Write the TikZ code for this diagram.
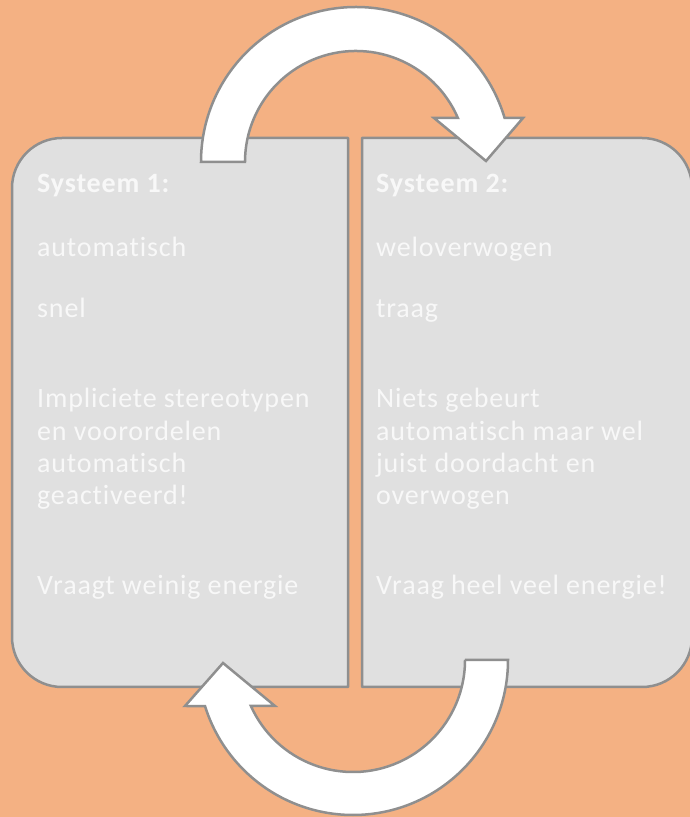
\documentclass[tikz,border=0pt]{standalone}
\usepackage{fontspec}
\setmainfont{Carlito}[Ligatures={NoCommon}, LetterSpace=3]
\definecolor{bgorange}{HTML}{F4B183}
\definecolor{boxgrey}{HTML}{E0E0E0}
\definecolor{edgegrey}{HTML}{8F8F8F}
\definecolor{txtwhite}{HTML}{F8F8F8}
\tikzset{
  panel/.style={fill=boxgrey, draw=edgegrey, line width=2.5pt, line join=round},
  cyclearrow/.style={fill=white, draw=edgegrey, line width=2.5pt, line join=miter},
  txt/.style={anchor=base west, inner sep=0pt, text=txtwhite, font=\fontsize{28}{32}\selectfont},
  hdr/.style={txt, font=\fontsize{28}{32}\selectfont\bfseries}
}
\begin{document}
\begin{tikzpicture}[x=1pt, y=1pt]
\useasboundingbox (0,0) rectangle (690,817);
\fill[bgorange] (0,0) rectangle (690,817);
% panels
\draw[panel] (348,679) -- (62,679) arc[start angle=90, end angle=180, radius=50]
  -- (12,180) arc[start angle=180, end angle=270, radius=50] -- (348,130) -- cycle;
\draw[panel] (362,679) -- (642,679) arc[start angle=90, end angle=0, radius=50]
  -- (692,180) arc[start angle=0, end angle=-90, radius=50] -- (362,130) -- cycle;
% top arrow
\draw[cyclearrow] (201,655) arc[start angle=180, end angle=16.5, radius=155]
  -- (523,699) -- (486,656) -- (434,699) -- (457.9,699)
  arc[start angle=23.35, end angle=180, radius=111] -- cycle;
% bottom arrow
\draw[cyclearrow] (465,157) -- (508,157) arc[start angle=0, end angle=-162.73, radius=155]
  -- (185,111) -- (223,154) -- (275,111) -- (250.9,111)
  arc[start angle=-155.75, end angle=0, radius=112] -- cycle;
% left texts
\node[hdr] (l1) at (37,624) {Systeem 1:};
\node[txt] (l2) at (37,560) {automatisch};
\node[txt] (l3) at (37,499) {snel};
\node[txt] (l4) at (37,409) {Impliciete stereotypen};
\node[txt] (l5) at (37,376) {en voorordelen};
\node[txt] (l6) at (37,344) {automatisch};
\node[txt] (l7) at (37,312) {geactiveerd!};
\node[txt] (l8) at (37,222) {Vraagt weinig energie};
% right texts
\node[hdr] (r1) at (376,624) {Systeem 2:};
\node[txt] (r2) at (376,560) {weloverwogen};
\node[txt] (r3) at (376,499) {traag};
\node[txt] (r4) at (376,409) {Niets gebeurt};
\node[txt] (r5) at (376,376) {automatisch maar wel};
\node[txt] (r6) at (376,344) {juist doordacht en};
\node[txt] (r7) at (376,312) {overwogen};
\node[txt] (r8) at (376,222) {Vraag heel veel energie!};
\end{tikzpicture}
\end{document}
